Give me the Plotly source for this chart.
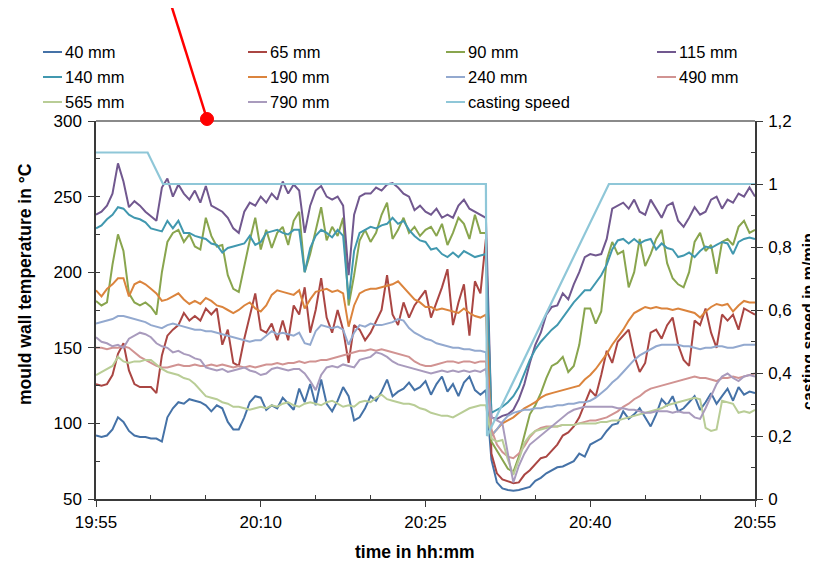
import pandas as pd
import plotly.graph_objects as go

# ---------------- data (minutes after 19:55, sampled every 0.5 min) ----------------
minutes = [i * 0.5 for i in range(121)]

t40 = [92, 91, 92, 96, 104, 101, 95, 92, 91, 91,
       90, 90, 88, 104, 110, 114, 113, 116, 115, 114,
       112, 108, 112, 110, 101, 96, 96, 104, 114, 118,
       117, 109, 112, 110, 117, 113, 109, 123, 114, 126,
       112, 129, 113, 108, 115, 124, 118, 102, 104, 110,
       118, 115, 121, 129, 118, 121, 123, 127, 122, 124,
       128, 119, 126, 131, 121, 126, 118, 127, 131, 122,
       119, 122, 76, 61, 57, 56, 55.5, 56, 57, 58,
       62, 64, 67, 69, 71, 71.5, 73, 75, 80, 78,
       86, 88, 90, 95, 99, 100, 108, 103, 106, 110,
       104, 98, 106, 116, 112, 118, 108, 110, 114, 118,
       109, 114, 120, 113, 118, 123, 115, 124, 119, 121,
       120]

t65 = [126, 125, 126, 132, 146, 153, 135, 126, 124, 124,
       124, 120, 145, 158, 162, 165, 173, 168, 171, 168,
       176, 172, 176, 152, 162, 140, 138, 156, 172, 186,
       162, 160, 166, 155, 168, 155, 178, 172, 190, 160,
       175, 196, 170, 160, 175, 162, 140, 165, 162, 155,
       160, 168, 175, 198, 172, 165, 180, 170, 178, 183,
       188, 170, 180, 190, 202, 165, 180, 192, 158, 194,
       186, 222, 80, 67, 63, 62, 60.5, 61, 66, 69,
       73, 77, 78, 82, 86, 92, 94, 98, 104, 113,
       122, 118, 132, 148, 140, 154, 158, 162, 145, 134,
       140, 160, 162, 156, 165, 170, 152, 142, 138, 168,
       165, 176, 160, 150, 172, 168, 172, 162, 176, 174,
       172]

t90 = [181, 178, 180, 205, 225, 214, 186, 180, 178, 180,
       177, 172, 200, 220, 226, 228, 220, 225, 217, 215,
       236, 224, 217, 218, 198, 189, 187, 205, 221, 236,
       215, 228, 216, 226, 230, 218, 234, 240, 200, 212,
       228, 243, 221, 230, 224, 236, 178, 198, 221, 228,
       220, 226, 238, 246, 222, 228, 236, 226, 230, 224,
       228, 230, 224, 232, 218, 226, 236, 232, 222, 238,
       226, 226, 88, 82, 76, 70, 68, 78, 92, 106,
       112, 120, 130, 138, 140, 144, 134, 138, 152, 176,
       176, 166, 174, 208, 220, 212, 214, 190, 200, 222,
       204, 212, 222, 228, 206, 196, 192, 190, 200, 220,
       226, 214, 218, 199, 220, 222, 218, 230, 234, 226,
       228]

t115 = [238, 240, 244, 252, 272, 260, 243, 247, 244, 240,
        237, 234, 256, 262, 250, 258, 252, 248, 254, 246,
        257, 244, 242, 240, 236, 229, 226, 240, 246, 244,
        250, 246, 252, 248, 260, 252, 258, 254, 226, 244,
        254, 257, 250, 248, 250, 244, 198, 238, 250, 252,
        252, 256, 254, 258, 259, 256, 252, 250, 241, 244,
        240, 238, 242, 236, 238, 236, 244, 248, 242, 240,
        238, 236, 104, 103, 105, 106, 109, 116, 126, 140,
        152, 160, 172, 177, 178, 186, 182, 192, 200, 210,
        212, 211, 212, 222, 242, 244, 246, 242, 248, 240,
        238, 248, 242, 236, 244, 246, 234, 230, 236, 243,
        238, 240, 248, 250, 242, 248, 246, 252, 250, 256,
        250]

t140 = [229, 231, 235, 238, 243, 242, 238, 236, 235, 233,
        229, 228, 227, 234, 229, 234, 226, 226, 224, 223,
        222, 219, 218, 213, 216, 217, 218, 219, 224, 218,
        220, 226, 227, 228, 226, 225, 228, 228, 200, 216,
        224, 228, 226, 223, 228, 224, 182, 214, 226, 228,
        230, 229, 231, 232, 236, 232, 234, 228, 224, 221,
        220, 215, 216, 212, 210, 213, 210, 214, 212, 210,
        211, 212, 107, 109, 111, 114, 118, 124, 133, 142,
        149, 154, 158, 162, 165, 170, 175, 180, 184, 188,
        188, 193, 198, 205, 215, 221, 222, 219, 222, 219,
        221, 222, 215, 219, 216, 215, 210, 211, 213, 210,
        214, 217, 216, 218, 220, 219, 212, 220, 222, 223,
        222]

t190 = [188, 184, 189, 192, 196, 196, 184, 192, 194, 192,
        189, 186, 181, 182, 184, 186, 182, 179, 181, 179,
        183, 181, 178, 177, 175, 173, 175, 178, 180, 176,
        174, 178, 185, 188, 187, 186, 185, 188, 176, 182,
        187, 188, 189, 187, 188, 186, 164, 178, 186, 188,
        189, 189, 190, 191, 192, 194, 190, 186, 182, 180,
        177, 177, 175, 176, 175, 174, 173, 176, 173, 171,
        170, 172, 92, 96, 100, 102, 104, 107, 110, 112,
        114, 117, 119, 120, 121, 122, 123, 124, 125, 129,
        132, 136, 141, 146, 152, 157, 162, 168, 173, 175,
        177, 176, 177, 176, 176, 175, 176, 175, 174, 173,
        170, 174, 177, 179, 178, 179, 174, 178, 181, 180,
        180]

t240 = [166, 167, 168, 169, 171, 171, 170, 169, 168, 167,
        165, 164, 163, 165, 166, 165, 164, 163, 162, 162,
        161, 161, 160, 159, 158, 157, 156, 155, 154, 155,
        155, 158, 161, 159, 160, 159, 158, 160, 153, 152,
        161, 165, 164, 163, 164, 162, 152, 160, 165, 164,
        166, 165, 165, 166, 167, 169, 168, 163, 160, 158,
        156, 155, 153, 152, 151, 150, 150, 149, 149, 148,
        148, 147, 92, 96, 101, 105, 107, 108, 109, 109,
        110, 110, 111, 111, 112, 112, 113, 113, 114, 114,
        115, 117, 120, 123, 127, 130, 134, 138, 142, 145,
        147, 149, 151, 152, 152, 152, 152, 151, 151, 150,
        149, 150, 150, 151, 151, 150, 150, 151, 152, 152,
        152]

t490 = [150, 150, 149, 150, 150, 151, 150, 147, 144, 142,
        140, 138, 137, 137, 138, 139, 138, 138, 139, 138,
        138, 139, 138, 139, 138, 137, 138, 137, 138, 137,
        138, 139, 139, 140, 139, 140, 140, 141, 140, 141,
        141, 142, 142, 143, 144, 145, 146, 147, 148, 148,
        149, 148, 149, 148, 147, 146, 145, 144, 141, 139,
        138, 138, 139, 140, 141, 141, 140, 141, 141, 140,
        141, 141, 96, 86, 81, 78, 77, 80, 85, 91,
        95, 97, 98, 98, 98, 99, 99, 99, 100, 101,
        102, 102, 103, 104, 106, 108, 111, 113, 116, 118,
        121, 123, 124, 125, 126, 127, 128, 129, 130, 131,
        130, 130, 129, 128, 130, 130, 131, 130, 131, 132,
        133]

t565 = [132, 134, 136, 138, 144, 141, 140, 141, 141, 142,
        142, 139, 136, 134, 133, 132, 130, 129, 126, 122,
        118, 117, 116, 114, 113, 111, 111, 110, 109, 110,
        111, 110, 112, 111, 113, 114, 112, 111, 113, 114,
        113, 112, 114, 115, 113, 111, 112, 111, 114, 115,
        114, 117, 119, 116, 115, 114, 113, 113, 112, 110,
        109, 107, 106, 105, 105, 104, 106, 108, 110, 111,
        112, 112, 90, 88, 89, 76, 66, 76, 87, 92,
        95, 96, 97, 98, 98, 99, 99, 99, 100, 100,
        100, 100, 101, 101, 102, 102, 103, 104, 105, 106,
        107, 108, 109, 110, 112, 113, 114, 115, 116, 117,
        116, 97, 95, 96, 115, 114, 113, 107, 108, 107,
        109]

t790 = [157, 154, 153, 151, 152, 150, 156, 158, 160, 159,
        157, 153, 151, 150, 147, 148, 146, 145, 143, 142,
        137, 136, 135, 136, 134, 135, 136, 137, 135, 134,
        132, 133, 136, 137, 136, 135, 136, 136, 133, 128,
        122, 132, 137, 138, 137, 139, 138, 137, 142, 143,
        144, 147, 146, 144, 141, 139, 138, 137, 136, 135,
        134, 133, 134, 135, 134, 135, 134, 135, 134, 135,
        134, 136, 104, 102, 100, 80, 61, 72, 80, 86,
        89, 92, 95, 98, 101, 104, 107, 109, 110, 111,
        111, 111, 111, 111, 111, 110, 110, 109, 109, 108,
        107, 107, 108, 108, 108, 107, 108, 107, 107, 104,
        103, 110, 118, 126, 131, 133, 130, 128, 131, 132,
        131]

speed_minutes = [0, 4.7, 6.1, 35.5, 35.6, 46.7, 60]
speed_values = [1.1, 1.1, 1.0, 1.0, 0.2, 1.0, 1.0]

series_names = ["40 mm", "65 mm", "90 mm", "115 mm", "140 mm", "190 mm",
                "240 mm", "490 mm", "565 mm", "790 mm"]
series_values = [t40, t65, t90, t115, t140, t190, t240, t490, t565, t790]
series_colors = ["#4572a7", "#aa4643", "#89a54e", "#71588f", "#4198af",
                 "#db843d", "#93a9cf", "#d19392", "#b9cd96", "#a99bbd"]
speed_name = "casting speed"
speed_color = "#8fc7d8"

x_tick_labels = ["19:55", "20:10", "20:25", "20:40", "20:55"]

# ---------------- figure ----------------
start = pd.Timestamp("2020-01-01 19:55")
times = start + pd.to_timedelta(minutes, unit="min")
speed_times = start + pd.to_timedelta(speed_minutes, unit="min")

FONT = "Liberation Sans, Arial, sans-serif"
fig = go.Figure()
for name, vals, col in zip(series_names, series_values, series_colors):
    fig.add_trace(go.Scatter(x=times, y=vals, name=name, mode="lines",
                             line=dict(color=col, width=2), showlegend=False))
fig.add_trace(go.Scatter(x=speed_times, y=speed_values, name=speed_name, mode="lines",
                         line=dict(color=speed_color, width=2.2), yaxis="y2",
                         showlegend=False))

# page-pixel geometry of the plot area (page body has an 8px margin)
OFF = 8
L, R, T, B = 96, 755, 121, 499
W, H = R - L, B - T


def px(xp):
    return (xp - L) / W


def py(yp):
    return (B - yp) / H


shapes = []
annotations = []

# legend (4 columns x 3 rows)
legend_names = series_names + [speed_name]
legend_colors = series_colors + [speed_color]
col_x = [43, 248, 446, 657]
row_y = [52, 77, 102]
for i, (nm, col) in enumerate(zip(legend_names, legend_colors)):
    cx = col_x[i % 4]
    cy = row_y[i // 4]
    shapes.append(dict(type="line", xref="paper", yref="paper",
                       x0=px(cx), x1=px(cx + 19), y0=py(cy), y1=py(cy),
                       line=dict(color=col, width=2)))
    annotations.append(dict(text=nm, xref="paper", yref="paper", x=px(cx + 20), y=py(cy),
                            xanchor="left", yanchor="middle", showarrow=False,
                            font=dict(family=FONT, size=16.5, color="#000")))

# top border (grey)
shapes.append(dict(type="line", xref="paper", yref="paper", x0=0, x1=1, y0=1, y1=1,
                   line=dict(color="#8a8a8a", width=2)))
# red pointer
shapes.append(dict(type="line", xref="paper", yref="paper",
                   x0=px(169), y0=py(-2), x1=px(207), y1=py(119),
                   line=dict(color="#ff0000", width=2.5)))
shapes.append(dict(type="circle", xref="paper", yref="paper",
                   x0=px(200.5), x1=px(213.5), y0=py(112.5), y1=py(125.5),
                   fillcolor="#ff0000", line=dict(color="#ff0000", width=1)))

# axis titles
title_font = dict(family=FONT, size=17.5, color="#000")
annotations.append(dict(text="<b>mould wall temperature in °C</b>", xref="paper", yref="paper",
                        x=px(25), y=py(284), textangle=-90, showarrow=False,
                        xanchor="center", yanchor="middle", font=title_font))
annotations.append(dict(text="<b>time in hh:mm</b>", xref="paper", yref="paper",
                        x=px(415), y=py(552), showarrow=False,
                        xanchor="center", yanchor="middle", font=title_font))
annotations.append(dict(text="<b>casting speed in m/min</b>", xref="paper", yref="paper",
                        x=px(808), y=py(321), textangle=-90, showarrow=False,
                        xanchor="center", yanchor="middle",
                        font=dict(family=FONT, size=16, color="#000")))

tick_font = dict(family=FONT, size=17, color="#000")
axis_col = "#3a3a3a"
fig.update_layout(
    width=818, height=565, autosize=False,
    margin=dict(l=L - OFF, r=818 - (R - OFF), t=T - OFF, b=565 - (B - OFF), pad=0),
    paper_bgcolor="white", plot_bgcolor="white",
    separators=", ",
    showlegend=False,
    shapes=shapes, annotations=annotations,
    xaxis=dict(type="date", range=[times[0], times[-1]],
               tickmode="array", tickvals=[times[0], times[30], times[60], times[90], times[120]],
               ticktext=x_tick_labels, tickfont=tick_font,
               showgrid=False, zeroline=False, showline=True, linecolor=axis_col, linewidth=1.5,
               ticks="outside", ticklen=6, tickcolor=axis_col, tickwidth=1.2,
               ticklabelstandoff=1,
               minor=dict(tickmode="array",
                          tickvals=[times[i] for i in (10, 20, 40, 50, 70, 80, 100, 110)],
                          ticks="inside", ticklen=4, tickcolor=axis_col, tickwidth=1.2)),
    yaxis=dict(range=[50, 300], tick0=50, dtick=50, tickfont=tick_font,
               showgrid=False, zeroline=False, showline=True, linecolor=axis_col, linewidth=1.5,
               ticks="outside", ticklen=6, tickcolor=axis_col, tickwidth=1.2,
               ticklabelstandoff=3,
               minor=dict(dtick=25, tick0=50, ticks="inside", ticklen=4,
                          tickcolor=axis_col, tickwidth=1.2)),
    yaxis2=dict(range=[0, 1.2], tick0=0, dtick=0.2, overlaying="y", side="right",
                tickfont=tick_font, showgrid=False, zeroline=False, showline=True,
                linecolor=axis_col, linewidth=1.5,
                ticks="outside", ticklen=6, tickcolor=axis_col, tickwidth=1.2,
                ticklabelstandoff=2,
                minor=dict(dtick=0.1, tick0=0, ticks="inside", ticklen=4,
                           tickcolor=axis_col, tickwidth=1.2)),
)

fig.write_html("out.html")
